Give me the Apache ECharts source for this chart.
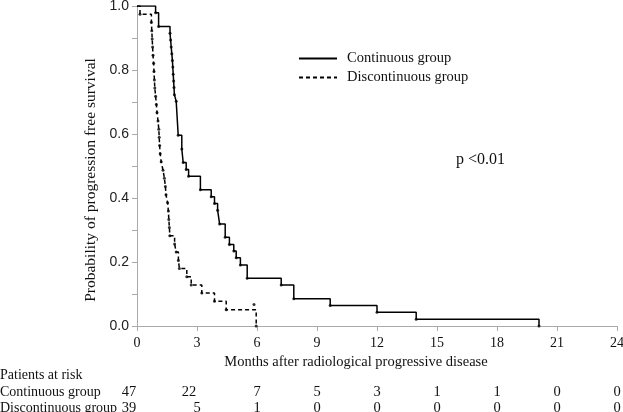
<!DOCTYPE html>
<html>
<head>
<meta charset="utf-8">
<script src="https://cdn.jsdelivr.net/npm/echarts@6/dist/echarts.min.js"></script>
<style>html,body{margin:0;padding:0;background:#fff;}#c{width:623px;height:412px;}</style>
</head>
<body>
<div id="c"></div>
<script>
// Kaplan-Meier data (time in months, survival after event)
var contTime = [0, 0.93, 1.08, 1.65, 1.68, 1.71, 1.74, 1.77, 1.79, 1.81, 1.83, 1.85, 1.87, 1.96, 2.06, 2.24, 2.31, 2.46, 2.58, 3.17, 3.71, 3.875, 4.03, 4.13, 4.41, 4.62, 4.84, 4.96, 5.17, 5.51, 7.21, 7.84, 9.66, 12.0, 13.96, 20.1];
var contSurv = [1.0, 0.979, 0.936, 0.915, 0.894, 0.872, 0.851, 0.830, 0.809, 0.787, 0.766, 0.745, 0.723, 0.702, 0.596, 0.553, 0.511, 0.489, 0.468, 0.426, 0.404, 0.383, 0.362, 0.319, 0.277, 0.255, 0.234, 0.213, 0.191, 0.149, 0.128, 0.085, 0.064, 0.043, 0.021, 0.0];
var discTime = [0, 0.15, 0.72, 0.74, 0.76, 0.78, 0.80, 0.83, 0.85, 0.87, 0.89, 0.93, 0.97, 1.00, 1.05, 1.09, 1.11, 1.13, 1.16, 1.21, 1.30, 1.37, 1.42, 1.45, 1.53, 1.57, 1.59, 1.62, 1.64, 1.88, 1.96, 2.07, 2.12, 2.49, 2.71, 3.24, 3.875, 4.46, 5.96];
var discSurv = [1.0, 0.974, 0.949, 0.923, 0.897, 0.872, 0.846, 0.821, 0.795, 0.769, 0.744, 0.718, 0.692, 0.667, 0.641, 0.615, 0.590, 0.564, 0.538, 0.513, 0.487, 0.462, 0.436, 0.410, 0.385, 0.359, 0.333, 0.308, 0.282, 0.256, 0.231, 0.205, 0.180, 0.154, 0.128, 0.103, 0.077, 0.051, 0.0];
var discCensor = [[5.85, 0.067]];
var riskCont = [47, 22, 7, 5, 3, 1, 1, 0, 0];
var riskDisc = [39, 5, 1, 0, 0, 0, 0, 0, 0];
var xTicks = [0, 3, 6, 9, 12, 15, 18, 21, 24];
var seriesNames = ['Continuous group', 'Discontinuous group'];

function pairs(t, s) { return t.map(function (v, i) { return [v, s[i]]; }); }

var serif = 'Liberation Serif';
var sans = 'Liberation Sans';
var chart = echarts.init(document.getElementById('c'), null, { renderer: 'canvas' });

function riskAxis(arr, margin) {
  return {
    type: 'value', min: 0, max: 24, interval: 3, position: 'bottom', offset: 0,
    axisLine: { show: false }, axisTick: { show: false }, splitLine: { show: false },
    axisLabel: {
      margin: margin, align: 'center', fontFamily: serif, fontSize: 14.5, color: '#111',
      formatter: function (v) {
        var i = xTicks.indexOf(v);
        if (i < 0) return '';
        return arr[i] >= 10 ? '{w|' + arr[i] + '}' : String(arr[i]);
      },
      rich: { w: { fontFamily: serif, fontSize: 14.5, color: '#111', padding: [0, 16, 0, 0] } }
    }
  };
}

chart.setOption({
  animation: false,
  backgroundColor: '#fff',
  grid: { left: 137, right: 6, top: 6, bottom: 86, outerBoundsMode: 'none', containLabel: false },
  legend: {
    orient: 'vertical', left: 293, top: 46, itemWidth: 38, itemHeight: 12, itemGap: 4,
    data: seriesNames,
    itemStyle: { opacity: 0 },
    textStyle: { fontFamily: serif, fontSize: 14.5, color: '#111', padding: [0, 0, 0, 5] }
  },
  xAxis: [
    {
      type: 'value', min: 0, max: 24, interval: 3,
      name: 'Months after radiological progressive disease', nameLocation: 'middle', nameGap: 25,
      nameTextStyle: { fontFamily: serif, fontSize: 14.5, color: '#111', padding: [0, 42, 0, 0] },
      axisLine: { lineStyle: { color: '#aaa', width: 1 } },
      axisTick: { length: 5, lineStyle: { color: '#aaa' } },
      splitLine: { show: false },
      axisLabel: { margin: 10, fontFamily: serif, fontSize: 14, color: '#111' }
    },
    riskAxis(riskCont, 59),
    riskAxis(riskDisc, 75)
  ],
  yAxis: {
    type: 'value', min: 0, max: 1, interval: 0.1,
    name: 'Probability of progression free survival', nameLocation: 'middle', nameGap: 33,
    nameTextStyle: { fontFamily: serif, fontSize: 15.5, color: '#111', padding: [0, 28, 0, 0] },
    axisLine: { show: true, lineStyle: { color: '#aaa', width: 1 } },
    axisTick: { show: true, length: 5, lineStyle: { color: '#aaa' } },
    splitLine: { show: false },
    axisLabel: {
      margin: 8, fontFamily: sans, fontSize: 14, color: '#222',
      formatter: function (v) { var k = Math.round(v * 10); return k % 2 === 0 ? (k / 10).toFixed(1) : ''; }
    }
  },
  series: [
    {
      name: seriesNames[0], type: 'line', step: 'end', symbol: 'none',
      data: pairs(contTime, contSurv),
      lineStyle: { color: '#000', width: 1.5, type: 'solid' }, itemStyle: { color: '#000' }
    },
    {
      name: seriesNames[1], type: 'line', step: 'end', symbol: 'none',
      data: pairs(discTime, discSurv),
      lineStyle: { color: '#000', width: 1.5, type: [4, 3] }, itemStyle: { color: '#000' }
    },
    {
      type: 'scatter', symbol: 'circle', symbolSize: 3, silent: true,
      data: pairs(contTime, contSurv).slice(1), itemStyle: { color: '#000' }
    },
    {
      type: 'scatter', symbol: 'circle', symbolSize: 3, silent: true,
      data: pairs(discTime, discSurv).slice(1).concat(discCensor), itemStyle: { color: '#000' }
    }
  ],
  graphic: [
    { type: 'text', left: 456, top: 152, style: { text: 'p <0.01', font: '16px "Liberation Serif"', fill: '#111' } },
    { type: 'text', left: 0, top: 368, style: { text: 'Patients at risk', font: '14px "Liberation Serif"', fill: '#111' } },
    { type: 'text', left: 0, top: 385, style: { text: 'Continuous group', font: '14px "Liberation Serif"', fill: '#111' } },
    { type: 'text', left: 0, top: 401, style: { text: 'Discontinuous group', font: '14px "Liberation Serif"', fill: '#111' } }
  ]
});
</script>
</body>
</html>
